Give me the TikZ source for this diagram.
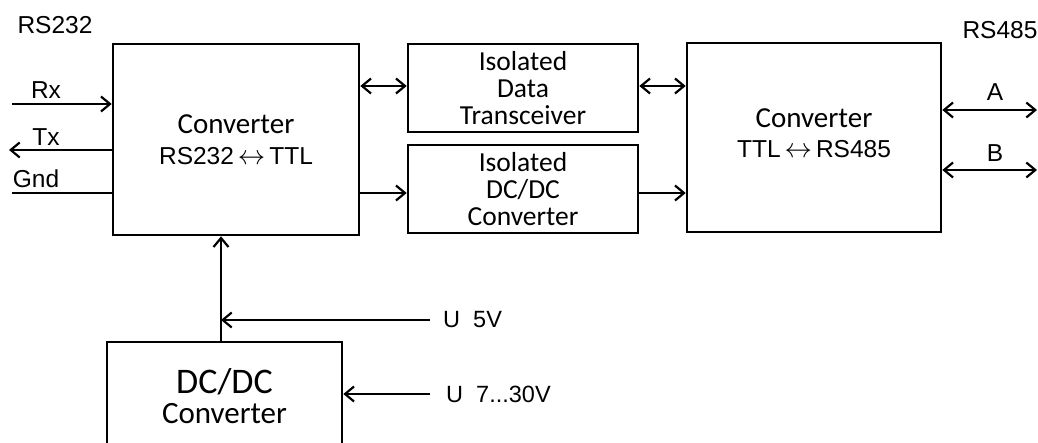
\documentclass[tikz,border=0pt]{standalone}
\usepackage{fontspec}
\setmainfont{Liberation Sans}
\newfontfamily\calfont{Carlito}
\usetikzlibrary{arrows.meta}
\tikzset{
  box/.style={draw, line width=2.6pt, inner sep=0pt, align=center},
  wire/.style={line width=2.2pt},
  conn/.style={wire, -{Straight Barb[length=9pt,width=15pt,line width=2.2pt]}},
  bconn/.style={wire, {Straight Barb[length=9pt,width=15pt,line width=2.2pt]}-{Straight Barb[length=9pt,width=15pt,line width=2.2pt]}},
  lbl/.style={inner sep=0pt, font=\fontsize{24.5}{28}\selectfont},
  ulbl/.style={inner sep=0pt, anchor=west, font=\fontsize{23.5}{28}\selectfont},
  conv/.style={box, font=\fontsize{24.5}{31}\selectfont},
  iso/.style={box, font=\calfont\fontsize{27.5}{27}\selectfont},
}
\newcommand{\arr}{\hspace{4pt}\scalebox{1.1}{$\leftrightarrow$}\hspace{4pt}}
\newcommand{\convword}{{\calfont\fontsize{29}{31}\selectfont Converter}}
\begin{document}
\begin{tikzpicture}[x=1pt,y=-1pt]
\useasboundingbox (0,0) rectangle (1038,443);
\clip (0,0) rectangle (1038,443);

% boxes
\node[conv, minimum width=246pt, minimum height=191pt] (c1) at (236,139.5)
  {\convword\\RS232\arr TTL};
\node[iso, minimum width=230pt, minimum height=88pt] (idt) at (523,88)
  {Isolated\\Data\\Transceiver};
\node[iso, minimum width=230pt, minimum height=88pt] (isodc) at (523,189)
  {Isolated\\DC/DC\\Converter};
\node[conv, minimum width=254pt, minimum height=189pt, text depth=9pt, font=\fontsize{24.5}{30}\selectfont] (c2) at (814,137.5)
  {\convword\\TTL\arr RS485};
\node[box, minimum width=235pt, minimum height=108pt, font=\calfont\fontsize{31}{30}\selectfont] (dc) at (224.5,396)
  {{\fontsize{36}{30}\selectfont DC/DC}\\Converter};

% labels
\node[lbl] (rs232) at (55,25) {RS232};
\node[lbl] (rs485) at (1000,30) {RS485};
\node[lbl] (rxl) at (46,90) {Rx};
\node[lbl] (txl) at (46,137) {Tx};
\node[lbl] (gndl) at (36,179) {Gnd};
\node[lbl] (al) at (995,92) {A};
\node[lbl] (bl) at (995,153) {B};
\node[ulbl] (u5) at (443,320) {U\ \ 5V};
\node[ulbl] (u7) at (446,394) {U\ \ 7...30V};

% coordinates of free ends
\coordinate (rx) at (12,104);
\coordinate (tx) at (9,150);
\coordinate (gnd) at (12,193);
\coordinate (aend) at (1037,110);
\coordinate (bend) at (1037,170);
\coordinate (v) at (221,0);
\coordinate (u5s) at (430,320);
\coordinate (u7s) at (430,394);

% connectors
\draw[conn] (rx) -- (rx -| c1.west);
\draw[conn] (tx -| c1.west) -- (tx);
\draw[wire] (gnd) -- (gnd -| c1.west);
\draw[bconn] ([yshift=2pt]idt.west -| c1.east) -- ([yshift=2pt]idt.west);
\draw[conn] ([yshift=-4pt]isodc.west -| c1.east) -- ([yshift=-4pt]isodc.west);
\draw[bconn] ([yshift=2pt]idt.east) -- ([yshift=2pt]idt.east -| c2.west);
\draw[conn] ([yshift=-4pt]isodc.east) -- ([yshift=-4pt]isodc.east -| c2.west);
\draw[bconn] (aend -| c2.east) -- (aend);
\draw[bconn] (bend -| c2.east) -- (bend);
\draw[conn] (v |- dc.north) -- (v |- c1.south);
\draw[conn] (u5s) -- (v |- u5s);
\draw[conn] (u7s) -- (u7s -| dc.east);
\end{tikzpicture}
\end{document}
